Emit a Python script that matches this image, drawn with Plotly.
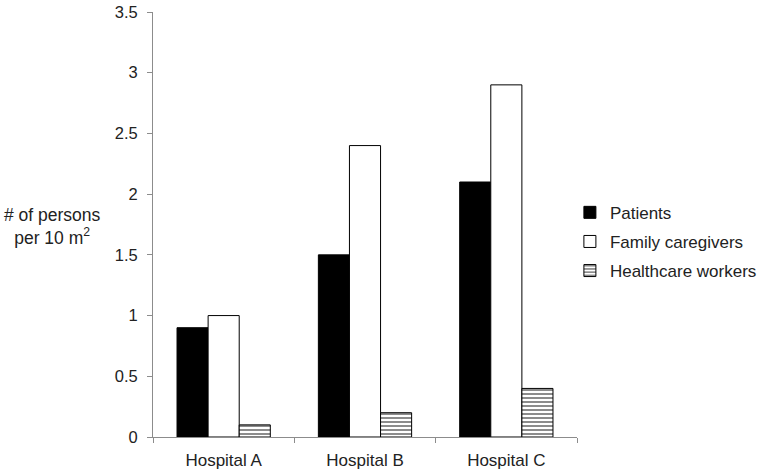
import plotly.graph_objects as go

categories = ["Hospital A", "Hospital B", "Hospital C"]
patients = [0.9, 1.5, 2.1]
family = [1.0, 2.4, 2.9]
hcw = [0.1, 0.2, 0.4]

fig = go.Figure()
fig.add_trace(go.Bar(name="Patients", x=categories, y=patients, legendgroup="p",
                     marker=dict(color="black", line=dict(color="black", width=1))))
fig.add_trace(go.Bar(name="Family caregivers", x=categories, y=family, legendgroup="f",
                     marker=dict(color="white", line=dict(color="black", width=1))))
fig.add_trace(go.Bar(name="Healthcare workers", x=categories, y=hcw, legendgroup="h",
                     marker=dict(color="white", line=dict(color="black", width=1),
                                 pattern=dict(shape="-", fgcolor="black", bgcolor="white",
                                              size=4, solidity=0.45))))

fig.update_layout(
    width=766, height=476,
    margin=dict(l=153, r=189, t=12, b=39, autoexpand=False),
    paper_bgcolor="white", plot_bgcolor="white",
    font=dict(family="Liberation Sans, Arial, sans-serif", size=16, color="#222"),
    barmode="group", bargap=0.34, bargroupgap=0,
    showlegend=True,
    legend=dict(xref="container", yref="container", x=0.744, y=0.492,
                xanchor="left", yanchor="middle",
                font=dict(size=17), tracegroupgap=4, itemwidth=30),
    xaxis=dict(showline=True, linecolor="#8c8c8c", linewidth=1, ticks="outside",
               tickson="boundaries", ticklen=5, tickcolor="#8c8c8c",
               showgrid=False, tickfont=dict(size=17), automargin=False,
               ticklabelstandoff=8),
    yaxis=dict(range=[0, 3.5], dtick=0.5, showline=True, linecolor="#8c8c8c",
               linewidth=1, ticks="outside", ticklen=5, tickcolor="#8c8c8c",
               showgrid=False, zeroline=False, tickfont=dict(size=16.5),
               automargin=False, ticklabelstandoff=6),
)
fig.add_annotation(text="# of persons<br>per 10 m<sup>2</sup>", xref="paper", yref="paper",
                   x=-0.236, y=0.496, xanchor="center", yanchor="middle",
                   showarrow=False, font=dict(size=17.5))

fig.write_html("out.html", config={"displayModeBar": False},
               post_script="document.body.style.margin='0';")
